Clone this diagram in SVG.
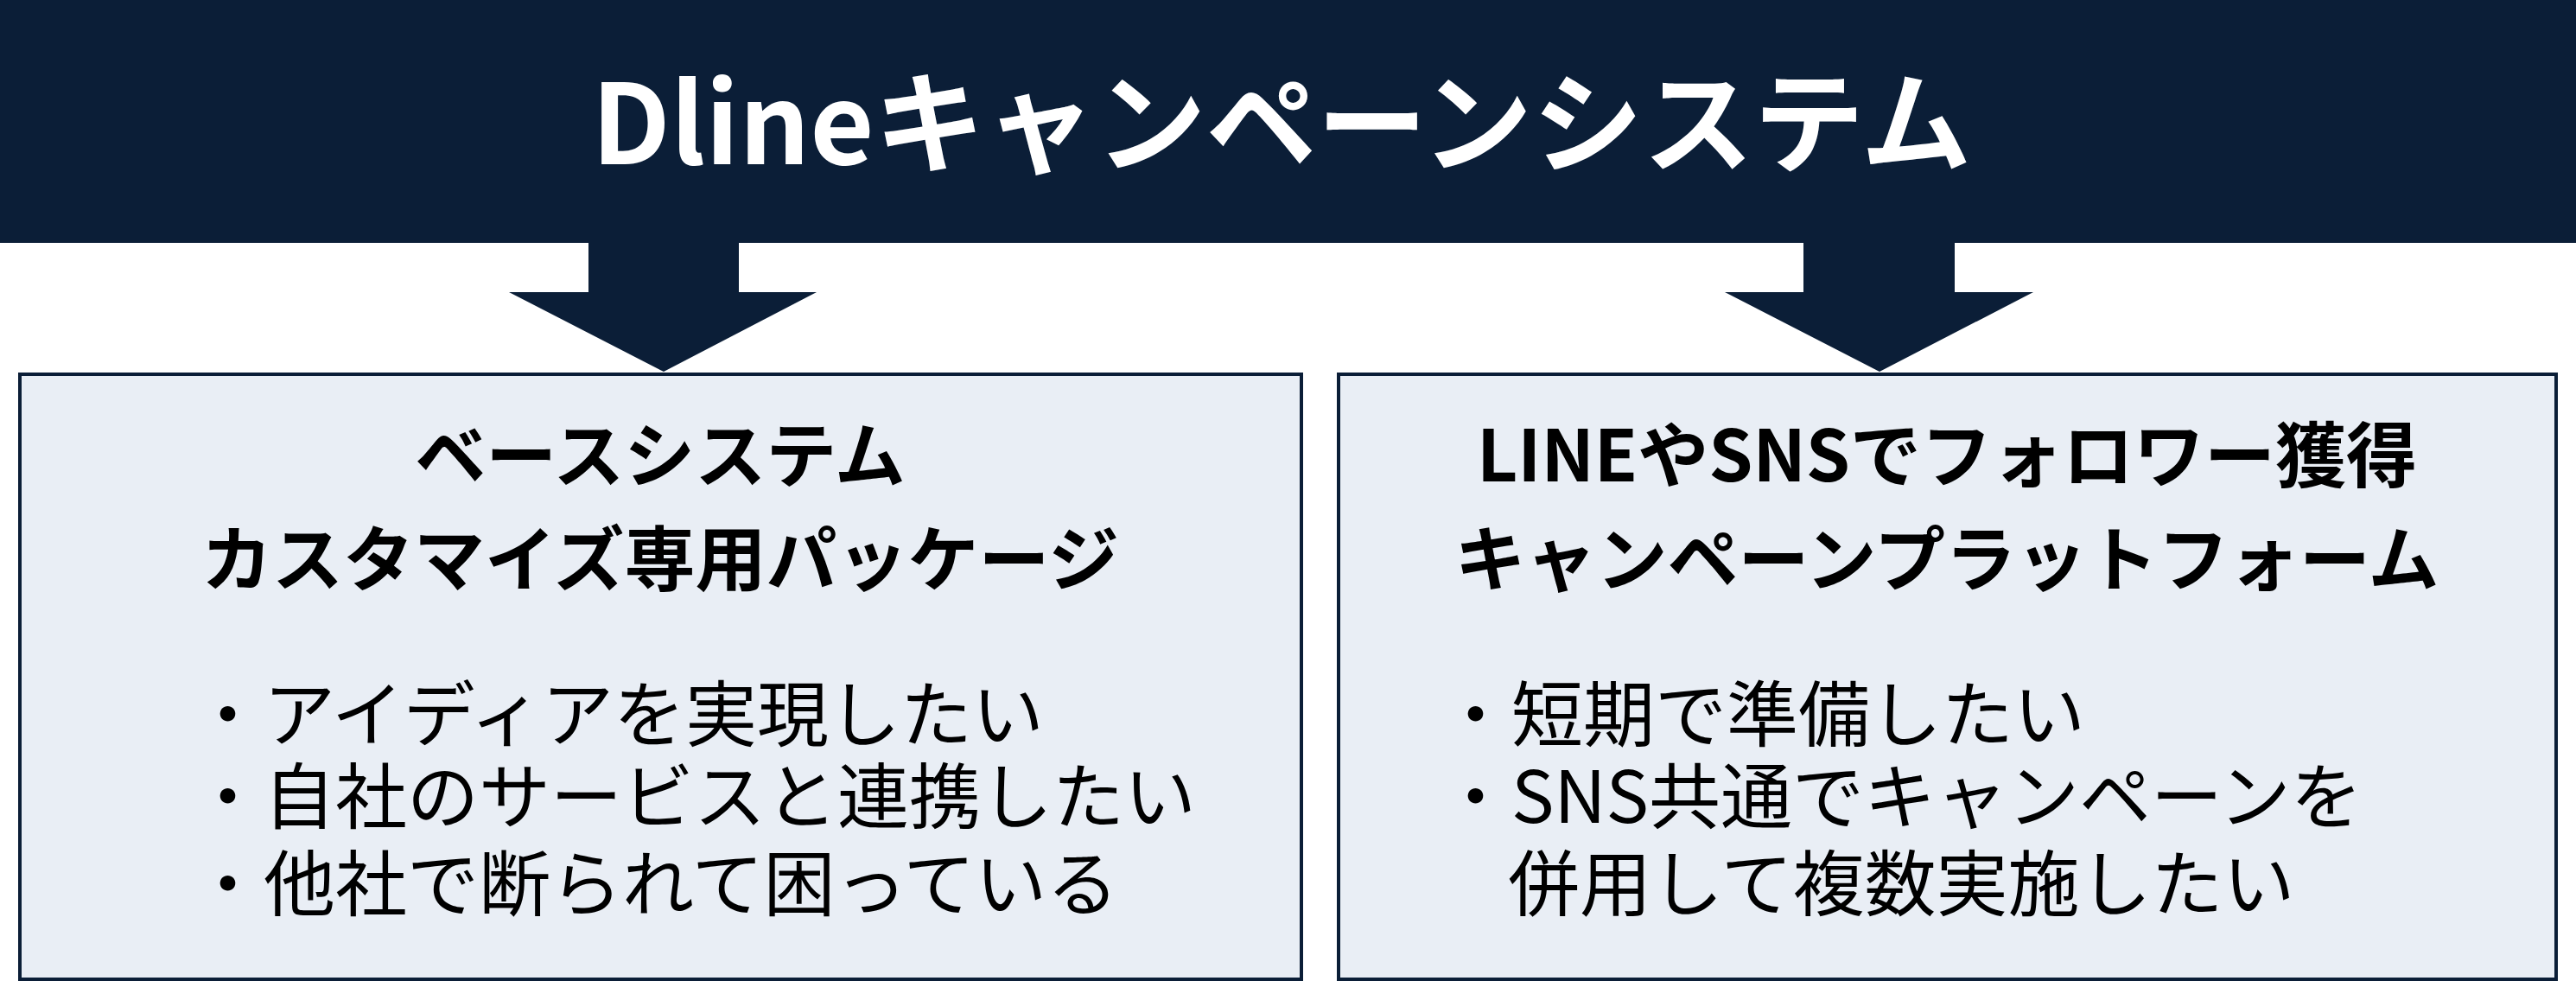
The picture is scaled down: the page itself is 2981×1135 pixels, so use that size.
<svg xmlns="http://www.w3.org/2000/svg" width="2981" height="1135" viewBox="0 0 2981 1135">
<style>
.t{font-family:"Noto Sans CJK JP","Noto Sans",sans-serif;fill:#000}
.h{font-weight:700;font-size:82px;text-anchor:middle}
.b{font-size:83px}
.box{fill:#e9eef5;stroke:#0b1e37;stroke-width:4}
.ar{fill:#0b1e37}
</style>
<rect x="0" y="0" width="2981" height="281" fill="#0b1e37"/>
<text x="1483" y="190" text-anchor="middle" font-family="Noto Sans CJK JP,Noto Sans,sans-serif" font-weight="700" font-size="128" fill="#fff">Dlineキャンペーンシステム</text>
<g id="connectors">
<polygon class="ar" points="681,281 855,281 855,338 945,338 768,430 589,338 681,338"/>
<polygon class="ar" points="2087,281 2262,281 2262,338 2353,338 2175,430 1996,338 2087,338"/>
</g>
<g id="left">
<rect class="box" x="23" y="433" width="1483" height="700"/>
<text class="t h" x="764" y="557">ベースシステム</text>
<text class="t h" x="764" y="677">カスタマイズ専用パッケージ</text>
<text class="t b" x="222" y="857">・アイディアを実現したい</text>
<text class="t b" x="222" y="952">・自社のサービスと連携したい</text>
<text class="t b" x="222" y="1053">・他社で断られて困っている</text>
</g>
<g id="right">
<rect class="box" x="1549" y="433" width="1409" height="700"/>
<text class="t h" x="2253" y="557">LINEやSNSでフォロワー獲得</text>
<text class="t h" x="2253" y="677">キャンペーンプラットフォーム</text>
<text class="t b" x="1666" y="857">・短期で準備したい</text>
<text class="t b" x="1666" y="952">・SNS共通でキャンペーンを</text>
<text class="t b" x="1745" y="1053">併用して複数実施したい</text>
</g>
</svg>
